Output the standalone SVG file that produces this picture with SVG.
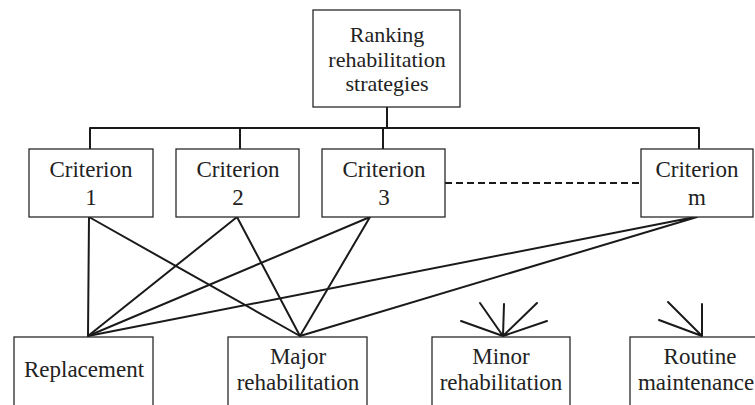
<svg xmlns="http://www.w3.org/2000/svg" width="755" height="405" viewBox="0 0 755 405">
  <style>
    .box { fill: #ffffff; stroke: #2a2a2a; stroke-width: 1.3; }
    .label { font-family: "Liberation Serif", "DejaVu Serif", "Times New Roman", serif; font-size: 23px; fill: #222222; text-anchor: middle; }
    .top { font-size: 22px; }
    .link { fill: none; stroke: #1a1a1a; stroke-width: 2; stroke-linecap: round; stroke-linejoin: round; }
    .dash { fill: none; stroke: #1a1a1a; stroke-width: 2; stroke-dasharray: 7 4; }
  </style>
  <rect width="755" height="405" fill="#ffffff"/>

  <!-- connectors -->
  <g id="connectors">
    <!-- hierarchy bracket from the goal to the criteria -->
    <path class="link" d="M387 107 V128 M90 149 V128 H699 V149 M240 128 V149 M383 128 V149"/>
    <!-- continuation between criterion 3 and criterion m -->
    <line class="dash" x1="445" y1="183" x2="641" y2="183"/>
    <!-- criterion 1 -->
    <path class="link" d="M89 217 L88 336 M89 217 L300 336"/>
    <!-- criterion 2 -->
    <path class="link" d="M237 217 L88 336 M237 217 L300 336"/>
    <!-- criterion 3 -->
    <path class="link" d="M370 217 L88 336 M370 217 L300 336"/>
    <!-- criterion m -->
    <path class="link" d="M695 217 L88 336 M697 217 L300 336"/>
    <!-- fan of links into minor rehabilitation -->
    <path class="link" d="M503 336 L461 321 M503 336 L480 303 M503 336 L504 304 M503 336 L537 303 M503 336 L547 321"/>
    <!-- fan of links into routine maintenance -->
    <path class="link" d="M702 336 L659 320 M702 336 L668 302 M702 336 L702 304"/>
  </g>

  <!-- goal -->
  <g id="goal">
    <rect class="box" x="313" y="10" width="147" height="97"/>
    <text class="label top" x="387" y="42">Ranking</text>
    <text class="label top" x="387" y="67">rehabilitation</text>
    <text class="label top" x="387" y="91">strategies</text>
  </g>

  <!-- criteria -->
  <g id="criterion-1">
    <rect class="box" x="29" y="149" width="124" height="68"/>
    <text class="label" x="91" y="177">Criterion</text>
    <text class="label" x="91" y="205">1</text>
  </g>
  <g id="criterion-2">
    <rect class="box" x="176" y="149" width="123" height="68"/>
    <text class="label" x="238" y="177">Criterion</text>
    <text class="label" x="238" y="205">2</text>
  </g>
  <g id="criterion-3">
    <rect class="box" x="322" y="149" width="123" height="68"/>
    <text class="label" x="384" y="177">Criterion</text>
    <text class="label" x="384" y="205">3</text>
  </g>
  <g id="criterion-m">
    <rect class="box" x="641" y="149" width="112" height="68"/>
    <text class="label" x="697" y="177">Criterion</text>
    <text class="label" x="697" y="205">m</text>
  </g>

  <!-- alternatives -->
  <g id="replacement">
    <rect class="box" x="14" y="337" width="139" height="80"/>
    <text class="label" x="84" y="377">Replacement</text>
  </g>
  <g id="major-rehabilitation">
    <rect class="box" x="228" y="337" width="139" height="80"/>
    <text class="label" x="298" y="364">Major</text>
    <text class="label" x="298" y="390">rehabilitation</text>
  </g>
  <g id="minor-rehabilitation">
    <rect class="box" x="432" y="337" width="138" height="80"/>
    <text class="label" x="501" y="364">Minor</text>
    <text class="label" x="501" y="390">rehabilitation</text>
  </g>
  <g id="routine-maintenance">
    <rect class="box" x="630" y="337" width="140" height="80"/>
    <text class="label" x="700" y="364">Routine</text>
    <text class="label" x="696" y="390">maintenance</text>
  </g>
</svg>
